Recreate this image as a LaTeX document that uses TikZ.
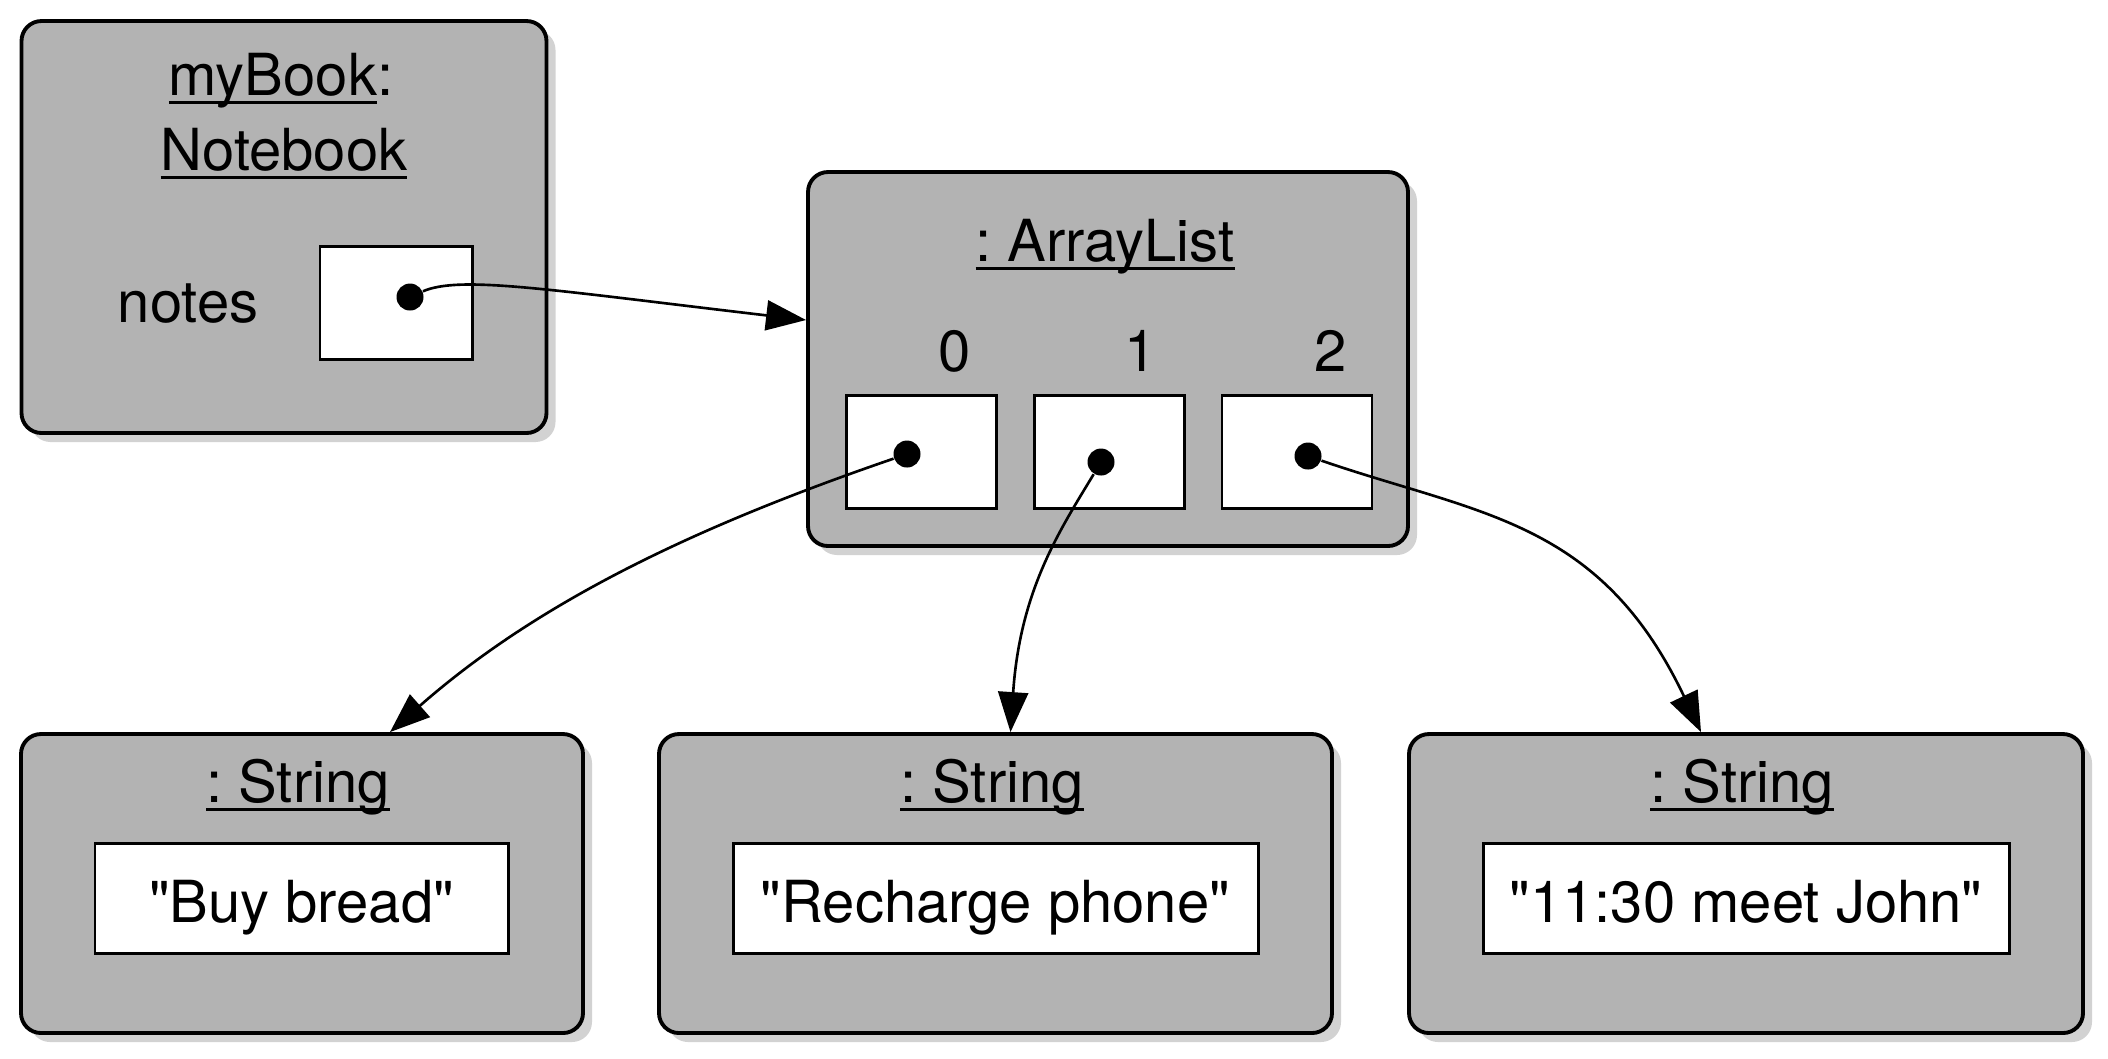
\documentclass[tikz,border=0pt]{standalone}
\usepackage{fontspec}
\setmainfont{TeX Gyre Heros}[Ligatures=TeXOff]
\usepackage{xcolor}
\usetikzlibrary{positioning,arrows.meta,shadows}
\definecolor{boxgray}{RGB}{179,179,179}
\newcommand{\diagfont}{\fontsize{16.5}{20}\selectfont\frenchspacing}
% underline at a fixed depth, through the descenders
\newcommand{\uln}[1]{\leavevmode\setbox0\hbox{#1}\rlap{\rule[-2.5pt]{\wd0}{0.8pt}}\box0}

\begin{document}
\begin{tikzpicture}[
  obj/.style={draw, line width=1.1pt, rounded corners=2mm, fill=boxgray,
    drop shadow={shadow xshift=0.9mm, shadow yshift=-0.9mm, fill=black!35}},
  field/.style={draw, line width=0.85pt, fill=white, inner sep=0},
  slot/.style={field, minimum width=1.5cm, minimum height=1.13cm},
  val/.style={field, minimum height=1.1cm, font=\diagfont, text height=14.2pt, text depth=0pt},
  dot/.style={circle, fill=black, inner sep=0, minimum size=2.7mm},
  lbl/.style={font=\diagfont, inner sep=0, anchor=base},
  ref/.style={-{Triangle[length=4mm, width=3mm]}, line width=0.75pt}
]
\useasboundingbox (0,0) rectangle (21.08,-10.58);

% the notebook object
\node[obj, minimum width=5.25cm, minimum height=4.12cm] (book) at (2.84,-2.27) {};
\node[lbl] (bookname) at (2.81,-0.95) {\uln{myBook}:};
\node[lbl] (booktype) at (2.84,-1.70) {\uln{Notebook}};
\node[lbl] (notes) at (1.88,-3.22) {notes};
\node[slot, minimum width=1.52cm] (notesfield) at (3.96,-3.025) {};
\node[dot] (notesdot) at (4.10,-2.97) {};

% the list object
\node[obj, minimum width=6cm, minimum height=3.74cm] (list) at (11.08,-3.59) {};
\node[lbl] (listname) at (11.05,-2.61) {\uln{: ArrayList}};
\node[slot] (slot0) at (9.21,-4.515) {};
\node[slot, right=0.35cm of slot0] (slot1) {};
\node[slot, right=0.35cm of slot1] (slot2) {};
\node[lbl] (idx0) at (9.55,-3.71) {0};
\node[lbl] (idx1) at (11.41,-3.71) {1};
\node[lbl] (idx2) at (13.31,-3.71) {2};
\node[dot] (dot0) at (9.07,-4.54) {};
\node[dot] (dot1) at (11.01,-4.62) {};
\node[dot] (dot2) at (13.08,-4.56) {};

% the strings
\node[obj, minimum width=5.62cm, minimum height=2.99cm] (str0) at (3.02,-8.835) {};
\node[obj, minimum width=6.73cm, minimum height=2.99cm] (str1) at (9.955,-8.835) {};
\node[obj, minimum width=6.74cm, minimum height=2.99cm] (str2) at (17.46,-8.835) {};
\node[lbl] (strname0) at (2.98,-8.02) {\uln{: String}};
\node[lbl] (strname1) at (9.92,-8.02) {\uln{: String}};
\node[lbl] (strname2) at (17.42,-8.02) {\uln{: String}};
\node[val, minimum width=4.13cm] (val0) at (3.015,-8.98) {"Buy bread"};
\node[val, minimum width=5.25cm] (val1) at (9.955,-8.98) {"Recharge phone"};
\node[val, minimum width=5.26cm] (val2) at (17.46,-8.98) {"11:30 meet John"};

% references
\draw[ref] (notesdot) .. controls (4.6,-2.75) and (5.5,-2.9) .. ([yshift=3.9mm]list.west);
\draw[ref] (dot0) .. controls (7.0,-5.25) and (5.4,-6.0) .. ([xshift=8.8mm]str0.north);
\draw[ref] (dot1) .. controls (10.6,-5.3) and (10.2,-5.9) .. ([xshift=1.5mm]str1.north);
\draw[ref] (dot2) .. controls (14.8,-5.15) and (16.0,-5.2) .. ([xshift=-4.5mm]str2.north);
\end{tikzpicture}
\end{document}
